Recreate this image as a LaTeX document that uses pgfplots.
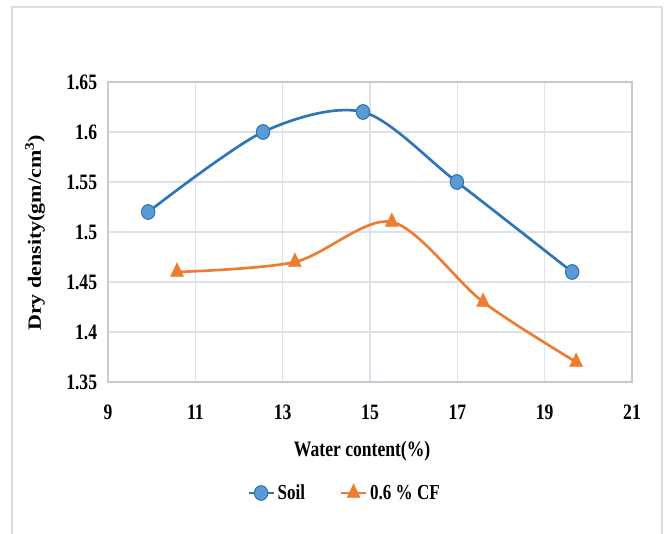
\documentclass[border=0pt]{standalone}
\usepackage{fontspec}
\setmainfont{Liberation Serif}
\newfontfamily\cf[FakeStretch=0.8]{Liberation Serif}
\usepackage{pgfplots}
\pgfplotsset{compat=1.18}
\definecolor{sblue}{HTML}{2E75B6}
\definecolor{sfill}{HTML}{5B9BD5}
\definecolor{sorange}{HTML}{ED7D31}
\definecolor{gridc}{HTML}{DDE1E8}
\definecolor{axc}{HTML}{C5CAD3}
\definecolor{framec}{HTML}{DADDE3}
\begin{document}
\begin{tikzpicture}
\useasboundingbox (0pt,0pt) rectangle (498.75pt,400.5pt);
\draw[framec, line width=1.2pt] (9pt,-3pt) -- (9pt,395.25pt) -- (496.5pt,395.25pt) -- (496.5pt,-3pt);
\begin{axis}[
  at={(81pt,114pt)}, anchor=south west,
  scale only axis, width=393pt, height=225pt,
  xmin=9, xmax=21, ymin=1.35, ymax=1.65,
  xtick={9,11,13,15,17,19,21},
  xticklabels={9,11,13,15,17,19,21},
  ytick={1.35,1.4,1.45,1.5,1.55,1.6,1.65},
  yticklabels={1.35,1.4,1.45,1.5,1.55,1.6,1.65},
  grid=major, major grid style={gridc, line width=0.9pt},
  axis line style={axc, line width=1pt},
  major tick length=0pt,
  tick label style={font=\cf\bfseries\fontsize{16.5}{16.5}\selectfont, inner sep=0pt},
  xticklabel style={anchor=north, yshift=-17pt},
  yticklabel style={anchor=east, xshift=-8pt},
  xlabel={\cf\bfseries\fontsize{16.5}{16.5}\selectfont Water content(\%)},
  xlabel style={at={(rel axis cs:0.485,-0.23)}, anchor=center, inner sep=0pt},
  ylabel={\scalebox{1}[0.85]{\bfseries\fontsize{16.5}{16.5}\selectfont Dry density(gm/cm\textsuperscript{3})}},
  ylabel style={at={(rel axis cs:-0.139,0.497)}, anchor=center, rotate=0, inner sep=0pt},
  legend style={at={(rel axis cs:0.452,-0.37)}, anchor=center, draw=none,
    font=\cf\bfseries\fontsize{16}{16}\selectfont, legend columns=2,
    /tikz/every even column/.append style={column sep=24pt}},
  legend cell align=left,
  legend image code/.code={\draw[mark repeat=2,mark phase=2] plot coordinates {(0cm,0cm)(0.33cm,0cm)(0.66cm,0cm)};},
]
\addplot[sblue, line width=2pt, smooth, mark=*, mark size=5pt,
  mark options={fill=sfill, draw=sblue, line width=0.8pt, yscale=1.1}]
  coordinates {(9.92,1.52) (12.55,1.60) (14.84,1.62) (16.99,1.55) (19.63,1.46)};
\addlegendentry{Soil}
\addplot[sorange, line width=2pt, smooth, mark=triangle*, mark size=5.5pt,
  mark options={fill=sorange, draw=sorange, line width=0.5pt, yscale=1.2}]
  coordinates {(10.58,1.46) (13.28,1.47) (15.5,1.51) (17.59,1.43) (19.72,1.37)};
\addlegendentry{0.6 \% CF}
\end{axis}
\end{tikzpicture}
\end{document}
